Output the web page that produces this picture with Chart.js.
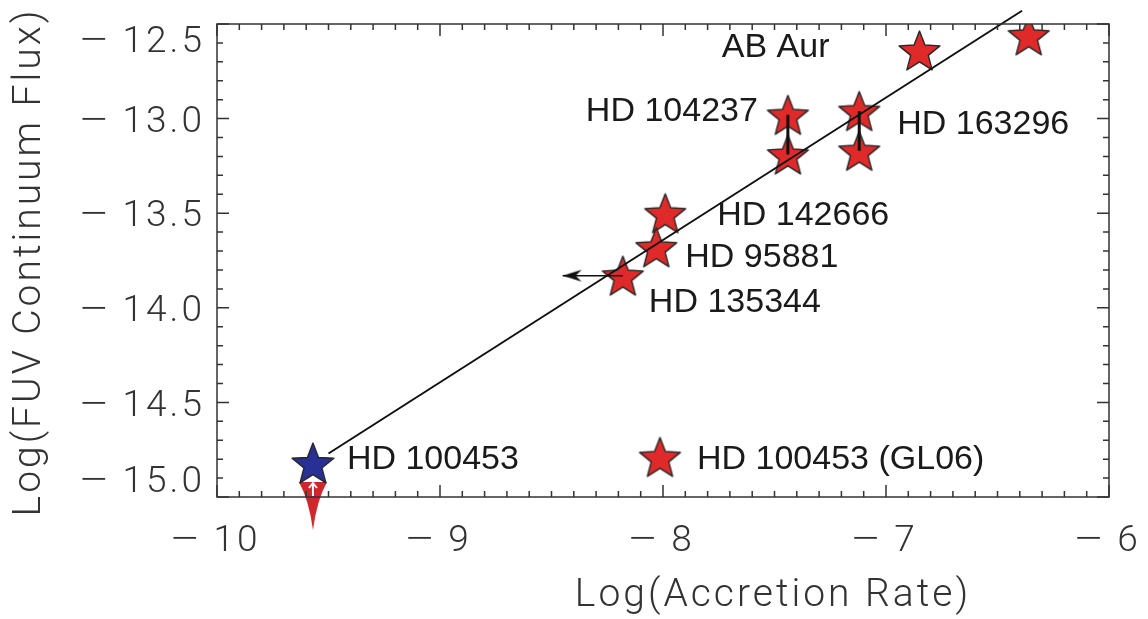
<!DOCTYPE html>
<html>
<head>
<meta charset="utf-8">
<script src="https://cdn.jsdelivr.net/npm/chart.js@4.4.0/dist/chart.umd.min.js"></script>
<style>
  html, body { margin: 0; padding: 0; background: #fff; }
  canvas { display: block; }
</style>
</head>
<body>
<canvas id="fluxChart" width="1148" height="619"></canvas>
<script>
// log accretion rate vs log FUV continuum flux
const starNames = ['AB Aur', 'AB Aur', 'HD 104237', 'HD 104237', 'HD 163296', 'HD 163296', 'HD 142666', 'HD 95881', 'HD 135344'];
const accretion = [-6.85, -6.36, -7.44, -7.44, -7.12, -7.12, -7.99, -8.03, -8.18];
const fuvFlux = [-12.64, -12.56, -12.98, -13.19, -12.96, -13.17, -13.50, -13.68, -13.83];

const hd100453Accretion = [-9.57];
const hd100453Flux = [-14.82];

// HD 135344: accretion rate is an upper limit
const limitAccretion = [-8.18, -8.45];
const limitFlux = [-13.83, -13.83];

// linear fit
const fitAccretion = [-9.50, -6.39];
const fitFlux = [-14.77, -12.43];

const xTicks = [-10, -9, -8, -7, -6];
const yTicks = [-12.5, -13.0, -13.5, -14.0, -14.5, -15.0];

const RED = 'rgb(224, 42, 42)';
const BLUE = 'rgb(40, 48, 150)';
const THIN = '"Roboto", "DejaVu Sans", sans-serif';
const LABEL = '"Liberation Sans", Arial, sans-serif';

function makeStar(fill, r) {
  const s = Math.ceil(2 * r + 4);
  const c = document.createElement('canvas');
  c.width = s; c.height = s;
  const g = c.getContext('2d');
  const cy = s / 2 + 0.095 * r;
  g.beginPath();
  for (let k = 0; k < 10; k++) {
    const rr = k % 2 ? r * 0.43 : r;
    const ang = -Math.PI / 2 + k * Math.PI / 5;
    const px = s / 2 + rr * Math.cos(ang), py = cy + rr * Math.sin(ang);
    if (k) g.lineTo(px, py); else g.moveTo(px, py);
  }
  g.closePath();
  g.fillStyle = fill;
  g.fill();
  g.strokeStyle = '#262626';
  g.lineWidth = 1.4;
  g.lineJoin = 'round';
  g.stroke();
  return c;
}

// red downward arrow hanging under the blue star (centre = star centre)
function makeDownArrow() {
  const c = document.createElement('canvas');
  c.width = 34; c.height = 140;
  const g = c.getContext('2d');
  const cx = 17, top = 89, tip = 137;
  g.beginPath();
  g.moveTo(cx - 14, top);
  g.lineTo(cx + 14, top);
  g.quadraticCurveTo(cx + 4, top + 18, cx, tip);
  g.quadraticCurveTo(cx - 4, top + 18, cx - 14, top);
  g.closePath();
  g.fillStyle = 'rgb(205, 38, 44)';
  g.fill();
  // small white arrow inside
  g.strokeStyle = '#fff';
  g.lineWidth = 2;
  g.beginPath();
  g.moveTo(cx, top + 1);
  g.lineTo(cx, top + 14);
  g.moveTo(cx - 4, top + 6);
  g.lineTo(cx, top + 1);
  g.lineTo(cx + 4, top + 6);
  g.stroke();
  return c;
}

// left-pointing arrowhead, tip at canvas centre
function makeLeftHead() {
  const c = document.createElement('canvas');
  c.width = 44; c.height = 16;
  const g = c.getContext('2d');
  g.beginPath();
  g.moveTo(22, 8);
  g.lineTo(41, 2);
  g.lineTo(35, 8);
  g.lineTo(41, 14);
  g.closePath();
  g.fillStyle = '#111';
  g.fill();
  return c;
}

const redStar = makeStar(RED, 21.5);
const blueStar = makeStar(BLUE, 22);
const downArrow = makeDownArrow();
const leftHead = makeLeftHead();

const pts = (xs, ys) => xs.map((v, i) => ({x: v, y: ys[i]}));
const pair = (i, j) => [{x: accretion[i], y: fuvFlux[i]}, {x: accretion[j], y: fuvFlux[j]}];

// text beside points: [star index or 'blue', dx, dy, align, text]
const pointLabels = [
  [0, -90, -3, 'right', starNames[0]],
  [2, -30, -3, 'right', starNames[2]],
  [4, 38, 14, 'left', starNames[4]],
  [6, 52, 2, 'left', starNames[6]],
  [7, 29, 10, 'left', starNames[7]],
  [8, 26, 27, 'left', starNames[8]],
  ['blue', 34, -3, 'left', 'HD 100453']
];

const MINUS_W = 24, MINUS_GAP = 16;

// negative tick label with a long minus sign, right edge at xr
function negLabel(ctx, digits, xr, y) {
  ctx.textAlign = 'right';
  ctx.fillText(digits, xr, y);
  const w = ctx.measureText(digits).width;
  ctx.textAlign = 'left';
  const m = ctx.measureText('\u2212');
  const ink = m.actualBoundingBoxLeft + m.actualBoundingBoxRight;
  ctx.save();
  ctx.translate(xr - w - MINUS_GAP - MINUS_W, y);
  ctx.scale(MINUS_W / ink, 1);
  ctx.fillText('\u2212', m.actualBoundingBoxLeft, 0);
  ctx.restore();
}

const frame = {
  id: 'frame',
  afterDatasetsDraw(chart) {
    const {ctx, chartArea: a, scales: {x, y}} = chart;
    ctx.save();

    // box with inward ticks on all four sides
    ctx.strokeStyle = '#333';
    ctx.lineWidth = 1.5;
    ctx.strokeRect(a.left, a.top, a.right - a.left, a.bottom - a.top);
    ctx.beginPath();
    for (let i = -100; i <= -60; i++) {
      const px = x.getPixelForValue(i / 10);
      const len = i % 10 === 0 ? 12 : 6;
      ctx.moveTo(px, a.bottom); ctx.lineTo(px, a.bottom - len);
      ctx.moveTo(px, a.top); ctx.lineTo(px, a.top + len);
    }
    for (let i = -150; i <= -125; i++) {
      const py = y.getPixelForValue(i / 10);
      const len = i % 5 === 0 ? 12 : 6;
      ctx.moveTo(a.left, py); ctx.lineTo(a.left + len, py);
      ctx.moveTo(a.right, py); ctx.lineTo(a.right - len, py);
    }
    ctx.stroke();

    // tick labels
    ctx.fillStyle = '#333';
    ctx.font = '300 37px ' + THIN;
    ctx.letterSpacing = '3px';
    ctx.textBaseline = 'middle';
    xTicks.forEach(v => {
      const digits = String(Math.abs(v));
      const w = ctx.measureText(digits).width + MINUS_GAP + MINUS_W;
      negLabel(ctx, digits, x.getPixelForValue(v) + w / 2, a.bottom + 45);
    });
    yTicks.forEach(v => {
      let py = y.getPixelForValue(v) + 4;
      py = Math.min(Math.max(py, a.top + 19), a.bottom - 14);
      negLabel(ctx, Math.abs(v).toFixed(1), a.left - 12, py);
    });

    // axis titles
    ctx.font = '300 39px ' + THIN;
    ctx.letterSpacing = '3px';
    ctx.textAlign = 'center';
    ctx.fillText('Log(Accretion Rate)', 773, 596);
    ctx.save();
    ctx.translate(30, 262);
    ctx.rotate(-Math.PI / 2);
    ctx.fillText('Log(FUV Continuum Flux)', 0, 0);
    ctx.restore();

    // star names
    ctx.letterSpacing = '0px';
    ctx.fillStyle = '#1a1a1a';
    ctx.font = '34px ' + LABEL;
    pointLabels.forEach(([idx, dx, dy, align, text]) => {
      const px = x.getPixelForValue(idx === 'blue' ? hd100453Accretion[0] : accretion[idx]);
      const py = y.getPixelForValue(idx === 'blue' ? hd100453Flux[0] : fuvFlux[idx]);
      ctx.textAlign = align;
      ctx.fillText(text, px + dx, py + dy);
    });

    // key: red star = HD 100453 from GL06
    ctx.drawImage(redStar, 660 - redStar.width / 2, 457 - redStar.height / 2);
    ctx.textAlign = 'left';
    ctx.fillText('HD 100453 (GL06)', 697, 460);
    ctx.restore();
  }
};

new Chart(document.getElementById('fluxChart'), {
  type: 'scatter',
  data: {
    datasets: [
      {
        label: 'fit',
        data: pts(fitAccretion, fitFlux),
        showLine: true,
        borderColor: '#111',
        borderWidth: 2,
        pointRadius: 0,
        clip: false,
        order: 0
      },
      {
        label: 'HD 104237 range',
        data: pair(2, 3),
        showLine: true,
        borderColor: '#111',
        borderWidth: 3,
        pointRadius: 0,
        order: 1
      },
      {
        label: 'HD 163296 range',
        data: pair(4, 5),
        showLine: true,
        borderColor: '#111',
        borderWidth: 3,
        pointRadius: 0,
        order: 1
      },
      {
        label: 'HD 135344 limit',
        data: pts(limitAccretion, limitFlux),
        showLine: true,
        borderColor: '#111',
        borderWidth: 1.5,
        pointStyle: leftHead,
        pointRadius: [0, 3],
        order: 1
      },
      {
        label: 'stars',
        data: pts(accretion, fuvFlux),
        pointStyle: redStar,
        pointRadius: 10,
        order: 2
      },
      {
        label: 'HD 100453',
        data: pts(hd100453Accretion, hd100453Flux),
        pointStyle: blueStar,
        pointRadius: 10,
        order: 2
      },
      {
        label: 'HD 100453 limit',
        data: pts(hd100453Accretion, hd100453Flux),
        pointStyle: downArrow,
        pointRadius: 10,
        clip: false,
        order: 3
      }
    ]
  },
  options: {
    responsive: false,
    devicePixelRatio: 1,
    animation: false,
    layout: { padding: { left: 217, top: 24, right: 39, bottom: 122 } },
    plugins: { legend: { display: false }, tooltip: { enabled: false } },
    scales: {
      x: { type: 'linear', min: -10, max: -6, display: false },
      y: { type: 'linear', min: -15, max: -12.5, display: false }
    }
  },
  plugins: [frame]
});
</script>
</body>
</html>
